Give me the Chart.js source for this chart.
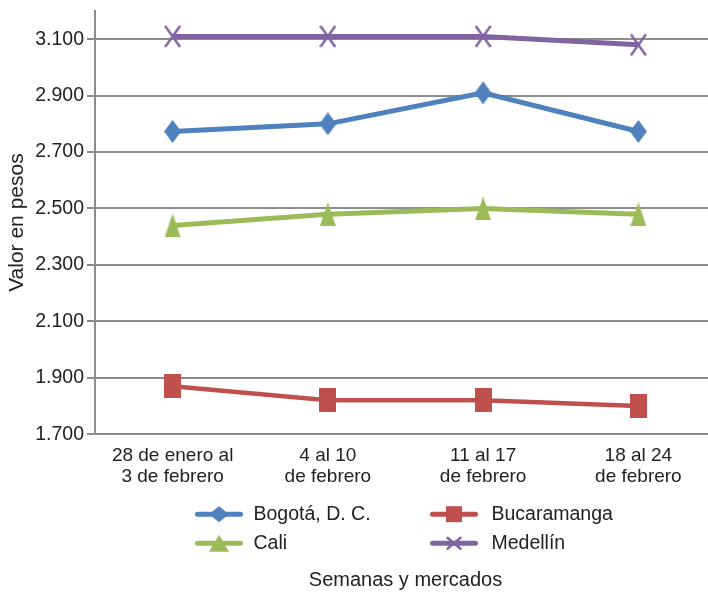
<!DOCTYPE html>
<html>
<head>
<meta charset="utf-8">
<script src="https://cdn.jsdelivr.net/npm/chart.js@4"></script>
<style>
  html, body { margin: 0; padding: 0; background: #fff; overflow: hidden; }
  /* the plot runs past the right edge of the picture */
  #wrap { width: 716px; height: 592px; }
</style>
</head>
<body>
<div id="wrap"><canvas id="chart"></canvas></div>
<script>
const weeks = [
    ['28 de enero al', '3 de febrero'],
    ['4 al 10', 'de febrero'],
    ['11 al 17', 'de febrero'],
    ['18 al 24', 'de febrero'],
];
const bogota      = [2773, 2800, 2910, 2773];
const bucaramanga = [1870, 1820, 1820, 1800];
const cali        = [2440, 2480, 2500, 2480];
const medellin    = [3110, 3110, 3110, 3080];
const yTicks      = [1700, 1900, 2100, 2300, 2500, 2700, 2900, 3100];

const FONT = "'Liberation Sans', Arial, sans-serif";
const GRID = '#8c8c8c';
const TEXT = '#222';

const fmt = (v) => String(v).replace(/\B(?=(\d{3})+(?!\d))/g, '.');

// markers in the source are taller than wide, so draw them ourselves
function drawMarker(ctx, style, cx, cy, w, h, color) {
    const hw = w / 2, hh = h / 2;
    ctx.save();
    ctx.fillStyle = color;
    ctx.strokeStyle = color;
    ctx.beginPath();
    if (style === 'diamond') {
        ctx.moveTo(cx, cy - hh);
        ctx.lineTo(cx + hw, cy);
        ctx.lineTo(cx, cy + hh);
        ctx.lineTo(cx - hw, cy);
        ctx.closePath();
        ctx.fill();
    } else if (style === 'square') {
        ctx.rect(cx - hw, cy - hh, w, h);
        ctx.fill();
    } else if (style === 'triangle') {
        ctx.moveTo(cx, cy - hh);
        ctx.lineTo(cx + hw, cy + hh);
        ctx.lineTo(cx - hw, cy + hh);
        ctx.closePath();
        ctx.fill();
    } else {
        ctx.lineWidth = 2.5;
        ctx.moveTo(cx - hw + 1, cy - hh + 1);
        ctx.lineTo(cx + hw - 1, cy + hh - 1);
        ctx.moveTo(cx + hw - 1, cy - hh + 1);
        ctx.lineTo(cx - hw + 1, cy + hh - 1);
        ctx.stroke();
    }
    ctx.restore();
}

function markerImage(style, w, h, color) {
    const c = document.createElement('canvas');
    c.width = w;
    c.height = h;
    drawMarker(c.getContext('2d'), style, w / 2, h / 2, w, h, color);
    return c;
}

function series(label, data, color, marker, size, width) {
    return {
        label, data,
        borderColor: color,
        backgroundColor: color,
        borderWidth: width,
        pointStyle: markerImage(marker, size[0], size[1], color),
        marker,
        pointRadius: 10,
        pointHoverRadius: 10,
        tension: 0,
    };
}

const legendMarkers = {
    diamond:  [20, 16],
    square:   [16, 16],
    triangle: [20, 17],
    cross:    [15, 13],
};

// legend laid out as a 2x2 grid between tick labels and the axis title
const gridLegend = {
    id: 'gridLegend',
    afterDraw(chart) {
        const { ctx, chartArea } = chart;
        const cx = (chartArea.left + chartArea.right) / 2;
        const cols = [cx - 210, cx + 25];
        const rows = [chartArea.bottom + 80, chartArea.bottom + 109];
        ctx.save();
        chart.data.datasets.forEach((ds, i) => {
            const x = cols[i % 2];
            const y = rows[Math.floor(i / 2)];
            ctx.strokeStyle = ds.borderColor;
            ctx.lineWidth = 5;
            ctx.lineCap = 'round';
            ctx.beginPath();
            ctx.moveTo(x + 2, y);
            ctx.lineTo(x + 45, y);
            ctx.stroke();
            const [mw, mh] = legendMarkers[ds.marker];
            drawMarker(ctx, ds.marker, x + 23.5, y, mw, mh, ds.borderColor);
            ctx.fillStyle = TEXT;
            ctx.font = `19.5px ${FONT}`;
            ctx.textBaseline = 'middle';
            ctx.fillText(ds.label, x + 58 + (i % 2) * 3, y);
        });
        ctx.restore();
    },
};

new Chart(document.getElementById('chart'), {
    type: 'line',
    data: {
        labels: weeks,
        datasets: [
            series('Bogotá, D. C.', bogota,      '#4f81bd', 'diamond',  [17, 23], 5),
            series('Bucaramanga',   bucaramanga, '#c0504d', 'square',   [17, 24], 4.5),
            series('Cali',          cali,        '#9bbb59', 'triangle', [16, 24], 5),
            series('Medellín',      medellin,    '#8064a2', 'cross',    [17, 23], 5),
        ],
    },
    options: {
        responsive: true,
        maintainAspectRatio: false,
        animation: false,
        layout: { autoPadding: false, padding: { top: 11, right: 0, left: 0, bottom: 0 } },
        plugins: {
            legend: { display: false },
            tooltip: { enabled: false },
        },
        scales: {
            x: {
                offset: true,
                afterFit: (scale) => { scale.paddingLeft = 0; scale.paddingRight = 0; },
                grid: { display: false, drawTicks: false },
                border: { display: true, color: GRID, width: 2 },
                ticks: {
                    color: TEXT,
                    font: { family: FONT, size: 19, lineHeight: 1.1 },
                    padding: 11,
                    maxRotation: 0,
                },
                title: {
                    display: true,
                    text: 'Semanas y mercados',
                    color: TEXT,
                    font: { family: FONT, size: 20 },
                    padding: { top: 70, bottom: 0 },
                },
            },
            y: {
                min: 1700,
                max: 3200,
                afterBuildTicks: (axis) => { axis.ticks = yTicks.map((v) => ({ value: v })); },
                afterFit: (scale) => { scale.paddingTop = 0; scale.paddingBottom = 0; },
                grid: { color: GRID, lineWidth: 2, tickLength: 8 },
                border: { display: true, color: GRID, width: 2 },
                ticks: {
                    color: TEXT,
                    font: { family: FONT, size: 19.5 },
                    padding: 3,
                    callback: (v) => fmt(v),
                },
                title: {
                    display: true,
                    text: 'Valor en pesos',
                    color: TEXT,
                    font: { family: FONT, size: 21 },
                    padding: { top: 5, bottom: 2 },
                },
            },
        },
    },
    plugins: [gridLegend],
});
</script>
</body>
</html>
